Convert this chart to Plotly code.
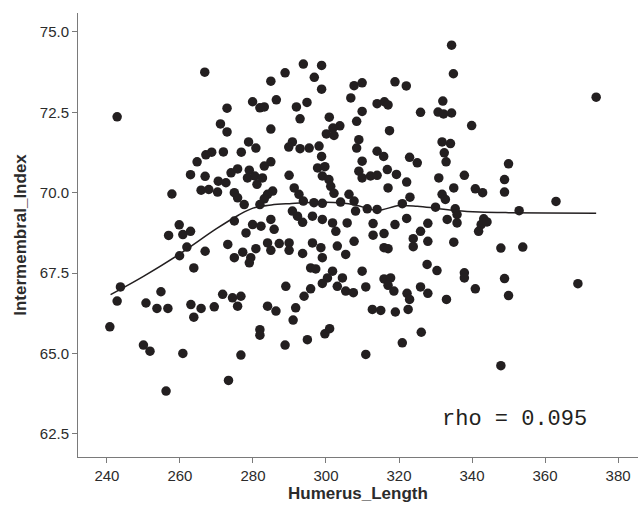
import plotly.graph_objects as go

# Humerus length vs. intermembral index, one point per specimen
humerus_length = [
    266.8, 242.8, 267.1, 268.7, 264.7,
    293.8, 298.8, 288.8, 296.8, 284.9, 298.8, 307.7, 306.8, 279.9, 281.9, 283.1, 286.4, 291.9, 294.8,
    292.9, 272.9, 271.1, 272.9, 284.9, 300.9, 303.8, 301.9, 300.1, 302.2, 308.4, 278.8, 280.8, 271.9,
    276.8, 290.8, 289.8, 292.9, 295.4, 298.1, 298.8, 284.9, 308.4,
    334.4, 334.9, 318.9, 322.0, 309.9, 314.0, 316.0, 317.0, 309.9, 325.9, 332.0, 330.7, 332.2, 334.4,
    339.9, 317.4, 309.0, 331.8, 334.1, 332.4, 314.0, 315.8, 322.9, 325.0, 309.9, 332.9,
    374.0, 350.0,
    262.9, 266.9, 270.5, 265.8, 267.9, 270.3, 257.8, 259.8, 256.9, 260.8, 262.9, 261.9, 259.9, 266.9,
    263.8, 243.7, 254.8, 242.8, 250.7, 253.7, 256.7, 263.0, 265.8, 269.4,
    240.8, 250.0, 251.8, 260.8, 256.2, 263.8,
    291.0, 281.9, 281.9, 276.7, 273.3, 288.8, 294.9, 299.7, 301.0,
    326.1, 320.9, 310.9, 347.9,
    348.9, 348.9, 363.0, 352.9, 347.9, 353.9, 348.9, 350.0, 369.0,
    272.6, 274.0, 275.8, 274.9, 275.8, 279.0, 278.5, 280.5, 281.1, 282.6, 283.1, 289.9, 291.3, 292.6,
    293.8, 297.7, 299.7, 299.0, 300.8, 301.3, 302.2, 306.3, 307.7, 308.1, 285.4, 284.0, 283.1, 281.9,
    277.6, 296.7, 299.0, 304.0, 274.9, 279.9, 282.2, 284.9, 285.8, 278.1, 290.8, 292.2, 293.6, 296.3,
    299.0, 301.8, 302.7, 305.8, 273.1, 284.0, 287.2, 289.9, 284.9, 289.9, 293.6, 277.2, 274.9, 279.4,
    280.8, 279.0, 296.3, 298.6, 299.0, 303.1, 305.4, 307.7, 295.8, 297.2, 301.8, 300.4, 299.0, 304.5,
    303.1, 305.4, 307.5, 289.0, 271.7, 274.4, 276.7, 275.8, 284.0, 286.3, 291.7, 294.0, 295.8,
    309.0, 309.9, 312.2, 314.0, 316.8, 319.3, 322.1, 330.9, 337.9, 335.0, 340.9, 342.9, 331.8, 332.7,
    323.0, 317.0, 311.3, 314.0, 320.9, 330.0, 335.4, 335.9, 333.2, 335.9, 343.2, 342.5, 341.8, 344.1,
    312.9, 318.9, 322.1, 327.9, 325.9, 323.9, 323.9, 327.9, 335.0, 312.9, 315.9, 315.9, 317.0, 327.7,
    330.4, 337.9, 337.9, 309.9, 310.9, 315.9, 317.7, 317.0, 318.6, 322.2, 325.9, 327.9, 322.9, 333.0,
    340.9, 312.7, 315.0, 319.0, 322.5,
]
intermembral_index = [
    73.75, 72.36, 71.18, 71.26, 70.96,
    74.00, 73.96, 73.73, 73.59, 73.47, 73.22, 73.33, 72.95, 72.83, 72.64, 72.67, 72.89, 72.67, 72.81,
    72.30, 72.63, 72.14, 71.89, 71.98, 72.35, 72.08, 72.01, 71.83, 71.78, 72.22, 71.58, 71.39, 71.27,
    71.26, 71.58, 71.42, 71.37, 71.39, 71.45, 71.13, 70.96, 71.39,
    74.59, 73.70, 73.45, 73.32, 73.42, 72.77, 72.83, 72.73, 72.53, 72.50, 72.85, 72.51, 72.45, 72.48,
    72.09, 71.93, 71.65, 71.58, 71.53, 71.24, 71.29, 71.13, 71.10, 70.93, 70.98, 70.96,
    72.97, 70.90,
    70.56, 70.51, 70.36, 70.08, 70.10, 70.02, 69.96, 69.00, 68.67, 68.70, 68.80, 68.31, 68.04, 68.18,
    67.66, 67.07, 66.92, 66.63, 66.57, 66.40, 66.40, 66.52, 66.40, 66.45,
    65.83, 65.26, 65.07, 65.00, 63.83, 66.13,
    66.04, 65.74, 65.57, 64.95, 64.16, 65.26, 65.43, 65.61, 65.77,
    65.66, 65.33, 64.97, 64.62,
    70.41, 70.02, 69.73, 69.44, 68.28, 68.31, 67.33, 66.80, 67.17,
    70.31, 70.62, 70.74, 70.00, 69.84, 70.70, 70.46, 70.52, 70.26, 70.46, 70.83, 70.54, 70.15, 69.95,
    69.74, 70.77, 70.81, 70.52, 70.41, 70.20, 69.98, 69.95, 69.74, 69.43, 70.05, 69.95, 69.81, 69.63,
    69.63, 69.69, 69.67, 69.71, 69.12, 69.01, 68.96, 69.17, 68.86, 68.75, 69.43, 69.27, 69.08, 69.27,
    69.17, 69.06, 68.80, 69.06, 68.39, 68.44, 68.42, 68.44, 68.21, 68.21, 68.11, 68.15, 67.98, 67.98,
    68.26, 67.82, 68.44, 68.29, 67.98, 68.34, 68.08, 68.49, 67.66, 67.63, 67.56, 67.35, 67.18, 67.35,
    67.09, 66.94, 66.89, 67.09, 66.84, 66.73, 66.78, 66.47, 66.47, 66.32, 66.42, 66.78, 67.01,
    70.67, 70.46, 70.52, 70.54, 70.72, 70.57, 70.33, 70.46, 70.54, 70.15, 70.12, 70.00, 69.95, 69.79,
    69.86, 70.15, 69.50, 69.48, 69.66, 69.55, 69.50, 69.32, 69.17, 69.06, 69.19, 69.01, 68.80, 69.09,
    69.04, 69.01, 69.20, 69.05, 68.80, 68.57, 68.32, 68.49, 68.46, 68.68, 68.73, 68.29, 68.26, 67.77,
    67.58, 67.51, 67.35, 67.56, 67.07, 67.32, 67.35, 67.12, 66.94, 66.87, 67.07, 66.87, 66.68, 66.68,
    67.01, 66.37, 66.34, 66.29, 66.37,
]

# Smoothed (loess) trend through the cloud
fit_x = [241, 250, 260, 270, 276, 280, 285, 290, 300, 308, 314, 320, 325, 330, 336, 342, 350, 360, 374]
fit_y = [66.83, 67.4, 68.1, 68.88, 69.3, 69.52, 69.62, 69.66, 69.7, 69.62, 69.45, 69.6, 69.58, 69.52,
         69.44, 69.4, 69.38, 69.37, 69.36]

x_ticks = [240, 260, 280, 300, 320, 340, 360, 380]
y_ticks = [62.5, 65.0, 67.5, 70.0, 72.5, 75.0]

rho_label = "rho = 0.095"

ink = "#231f20"
axis_grey = "#7a7a7a"
text_grey = "#2b2b2b"
sans = "Arial, Liberation Sans, sans-serif"

fig = go.Figure()
fig.add_trace(go.Scatter(
    x=humerus_length, y=intermembral_index, mode="markers",
    marker=dict(size=9.5, color=ink, line=dict(width=0)),
    hoverinfo="x+y", showlegend=False,
))
fig.add_trace(go.Scatter(
    x=fit_x, y=fit_y, mode="lines", line=dict(color=ink, width=1.5, shape="spline"),
    hoverinfo="skip", showlegend=False,
))

fig.add_annotation(
    x=351.6, y=62.95, xref="x", yref="y", text=rho_label, showarrow=False,
    font=dict(family="Courier New, Liberation Mono, monospace", size=22, color=ink),
    xanchor="center", yanchor="middle",
)

fig.update_layout(
    width=642, height=509,
    margin=dict(l=78, r=4, t=13, b=52),
    paper_bgcolor="white", plot_bgcolor="white",
    font=dict(family=sans, color=text_grey),
)
fig.update_xaxes(
    range=[232.08, 385.46], tickvals=x_ticks, ticktext=[str(v) for v in x_ticks],
    showgrid=False, zeroline=False, showline=True, linecolor=axis_grey, linewidth=1,
    ticks="outside", ticklen=5, tickcolor=axis_grey, tickfont=dict(size=15, family=sans, color=text_grey),
    title=dict(text="<b>Humerus_Length</b>", font=dict(size=17, family=sans, color=text_grey), standoff=4),
)
fig.update_yaxes(
    range=[61.78, 75.59], tickvals=y_ticks, ticktext=[f"{v:.1f}" for v in y_ticks],
    showgrid=False, zeroline=False, showline=True, linecolor=axis_grey, linewidth=1,
    ticks="outside", ticklen=5, tickcolor=axis_grey, tickfont=dict(size=15, family=sans, color=text_grey),
    title=dict(text="<b>Intermembral_Index</b>", font=dict(size=17, family=sans, color=text_grey), standoff=8),
)

fig.write_html("out.html")
